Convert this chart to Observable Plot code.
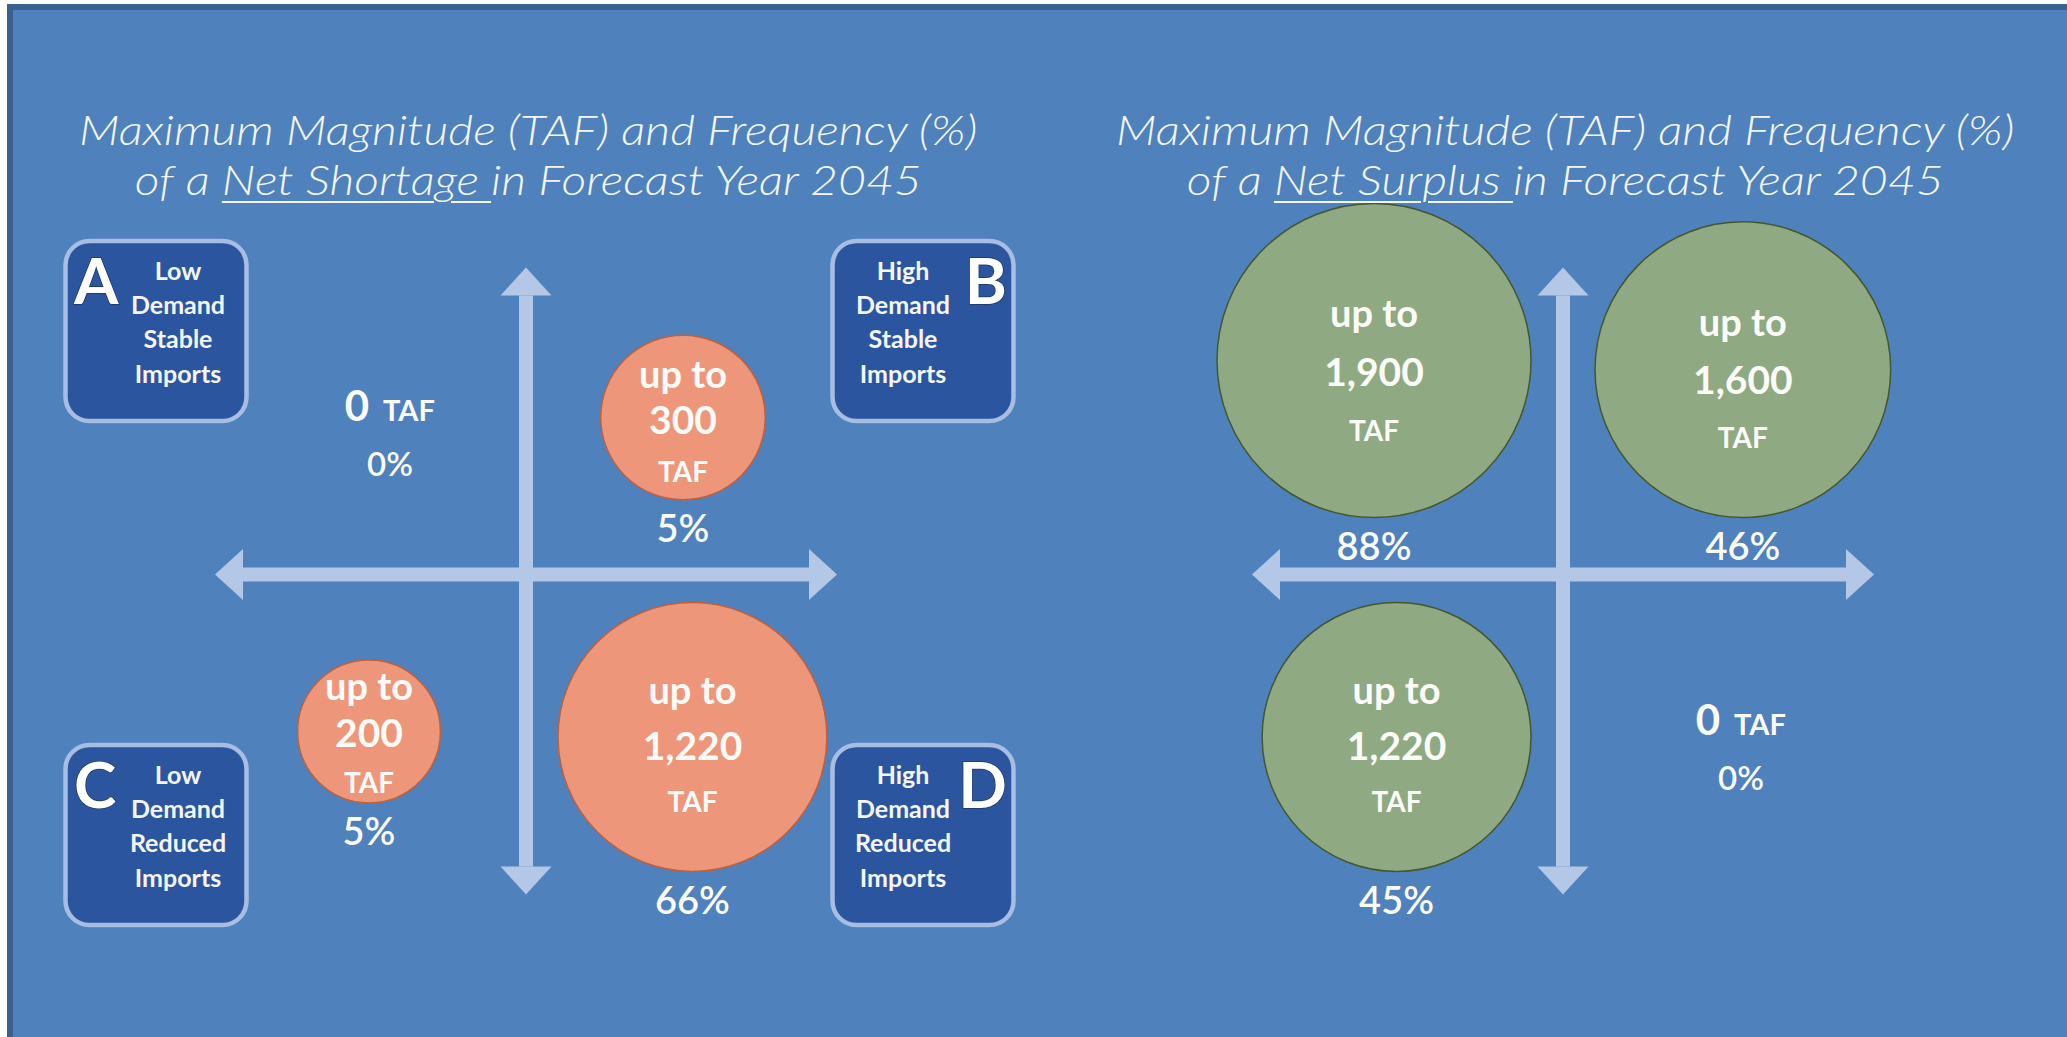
<!DOCTYPE html>
<html>
<head>
<meta charset="utf-8">
<script src="https://cdn.jsdelivr.net/npm/d3@7"></script>
<script src="https://cdn.jsdelivr.net/npm/@observablehq/plot@0.6"></script>
<style>
  html, body { margin: 0; padding: 0; background: #ffffff; }
  body { width: 2067px; height: 1037px; overflow: hidden; position: relative; font-family: Lato, "Open Sans", sans-serif; }
  #slide { position: absolute; left: 7px; top: 4px; right: -10px; bottom: -10px; background: #4f81bd;
           border-top: 6px solid #3a6090; border-left: 6px solid #3a6090; }
  .panel { position: absolute; top: 0; width: 1034px; }
  .title { box-sizing: border-box; height: 200px; padding-top: 104px; width: 1056px; text-align: center;
           color: #f4f6fb; font: italic 300 41.5px/50px Lato, sans-serif; white-space: nowrap; }
  .title span { display: inline-block; transform: scaleX(1.16); transform-origin: 50% 50%; }
  .title u { text-decoration-thickness: 2px; text-underline-offset: 6px; }
</style>
</head>
<body>
<div id="slide"></div>
<script>
// ---- Data: the four demand / import scenarios ----
const quadrants   = ["A", "B", "C", "D"];
const demandLevel = ["Low", "High", "Low", "High"];
const importLevel = ["Stable", "Stable", "Reduced", "Reduced"];

// Net shortage in forecast year 2045: maximum magnitude (TAF) and frequency (%)
const shortageTAF = [0, 300, 200, 1220];
const shortagePct = [0, 5, 5, 66];

// Net surplus in forecast year 2045
const surplusTAF = [1900, 1600, 1220, 0];
const surplusPct = [88, 46, 45, 0];

const titleLine1 = "Maximum Magnitude (TAF) and Frequency (%)";
const shortageTitle = ["of a ", "Net Shortage ", "in Forecast Year 2045"];
const surplusTitle  = ["of a ", "Net Surplus ", "in Forecast Year 2045"];

// ---- Layout ----
const W = 1034, H = 837;          // svg size of one panel
const CX = 525.5, CY = 374;       // where the two axes cross (svg px)
const AXIS = {x: 283, up: 279, down: 292};   // arrow shaft extents
const BASE = 157, GAP_X = 32, GAP_TOP = 57, GAP_BOTTOM = 28, ZERO_SHIFT = 21;
const FRAME = {left: -460, right: 488, top: 333, bottom: -351};
const BOX_W = 181, BOX_H = 180;

const rOptions = {type: "pow", exponent: 0.35, domain: [0, 1900], range: [0, 157]};
const rScale = Plot.scale({r: rOptions});

const arrowColor = "#b4c7e7";
const textColor = "#fbfbf7";

// filled arrowhead: base centred on the anchor, tip pointing up before rotation
const arrowHead = {
  draw(context, size) {
    const h = Math.sqrt(size / Math.PI);
    context.moveTo(0, -1.1 * h);
    context.lineTo(h, 0);
    context.lineTo(-h, 0);
    context.closePath();
  }
};

function rows(taf, pct) {
  return quadrants.map((q, i) => {
    const sx = demandLevel[i] === "High" ? 1 : -1;
    const sy = importLevel[i] === "Stable" ? 1 : -1;
    const r = rScale.apply(taf[i]);
    const ox = Math.max(BASE, r + GAP_X);
    const oy = Math.max(BASE, r + (sy > 0 ? GAP_TOP : GAP_BOTTOM));
    // vertical offsets (px below centre) of the three lines written inside a bubble
    const num = 0.12 * r - 6;
    return {q, demand: demandLevel[i], imports: importLevel[i], taf: taf[i], pct: pct[i],
            sx, sy, r, x: sx * ox, y: sy * oy,
            lineUp: num - Math.max(46, 0.17 * r + 32), lineNum: num, lineTaf: 0.22 * r + 37};
  });
}

function boxes(data) {
  return data.map(d => {
    const x1 = d.sx < 0 ? FRAME.left : FRAME.right - BOX_W;
    const y2 = d.sy > 0 ? FRAME.top : FRAME.bottom + BOX_H;
    return {...d, x1, x2: x1 + BOX_W, y1: y2 - BOX_H, y2};
  });
}

const fmt = d3.format(",");

function panelPlot(data, fill, stroke, withBoxes) {
  const bubbles = data.filter(d => d.taf > 0);
  const zeros = data.filter(d => d.taf === 0);
  const shafts = [
    {x1: -AXIS.x, y1: 0, x2: AXIS.x, y2: 0},
    {x1: 0, y1: -AXIS.down, x2: 0, y2: AXIS.up}
  ];
  const heads = [
    {x: -AXIS.x, y: 0, rotate: 270},
    {x: AXIS.x, y: 0, rotate: 90},
    {x: 0, y: AXIS.up, rotate: 0},
    {x: 0, y: -AXIS.down, rotate: 180}
  ];
  const bold = {fill: textColor, fontWeight: "bold", lineAnchor: "middle"};
  const zx = d => d.x + ZERO_SHIFT;
  const marks = [
    Plot.link(shafts, {x1: "x1", y1: "y1", x2: "x2", y2: "y2", stroke: arrowColor, strokeWidth: 14}),
    Plot.dot(heads, {x: "x", y: "y", rotate: "rotate", symbol: arrowHead, r: 25.5, fill: arrowColor, stroke: "none"}),
    Plot.dot(bubbles, {x: "x", y: "y", r: "taf", fill, stroke, strokeWidth: 1.5}),
    Plot.text(bubbles, {x: "x", y: d => d.y - d.lineUp, text: () => "up to", fontSize: 38, ...bold}),
    Plot.text(bubbles, {x: "x", y: d => d.y - d.lineNum, text: d => fmt(d.taf), fontSize: 39, ...bold}),
    Plot.text(bubbles, {x: "x", y: d => d.y - d.lineTaf, text: () => "TAF", fontSize: 28, ...bold}),
    Plot.text(bubbles, {x: "x", y: d => d.y - (d.r + 30), text: d => `${d.pct}%`, fontSize: 38,
                        fill: textColor, fontWeight: 600, lineAnchor: "middle"}),
    Plot.text(zeros, {x: d => zx(d) - 21, y: d => d.y - 3.5, text: d => fmt(d.taf), textAnchor: "end",
                      fontSize: 42, fill: textColor, fontWeight: "bold", lineAnchor: "bottom"}),
    Plot.text(zeros, {x: d => zx(d) - 7, y: d => d.y - 3.5, text: () => "TAF", textAnchor: "start",
                      fontSize: 29, fill: textColor, fontWeight: "bold", lineAnchor: "bottom"}),
    Plot.text(zeros, {x: zx, y: d => d.y - 48, text: d => `${d.pct}%`, fontSize: 33,
                      fill: textColor, fontWeight: 600, lineAnchor: "middle"})
  ];
  if (withBoxes) {
    const b = boxes(data);
    const leftBoxes = b.filter(d => d.sx < 0);
    const rightBoxes = b.filter(d => d.sx > 0);
    const letter = {y: d => d.y2 - 62, text: "q", fontSize: 64, fontWeight: "bold", fill: "#ffffff",
                    stroke: "#1d3561", strokeWidth: 1.5, paintOrder: "stroke", lineAnchor: "bottom"};
    const caption = {y: d => d.y2 - 14, text: d => `${d.demand}\nDemand\n${d.imports}\nImports`,
                     fontSize: 25, fontWeight: "bold", fill: "#f4f6fb", lineAnchor: "top", lineHeight: 1.37};
    marks.push(
      Plot.rect(b, {x1: "x1", x2: "x2", y1: "y1", y2: "y2", rx: 24, fill: "#2c55a0",
                    stroke: "#a8bde2", strokeWidth: 4.5}),
      Plot.text(leftBoxes, {x: d => d.x1 + 8, textAnchor: "start", ...letter}),
      Plot.text(rightBoxes, {x: d => d.x2 - 7, textAnchor: "end", ...letter}),
      Plot.text(leftBoxes, {x: d => d.x1 + 112, ...caption}),
      Plot.text(rightBoxes, {x: d => d.x1 + 70, ...caption})
    );
  }
  return Plot.plot({
    width: W, height: H, margin: 0,
    style: {background: "transparent", fontFamily: "Lato, 'Open Sans', sans-serif", overflow: "visible"},
    x: {domain: [-CX, W - CX], range: [0, W], axis: null},
    y: {domain: [CY - H, CY], range: [H, 0], axis: null},
    r: rOptions,
    marks
  });
}

const panels = [
  {left: 0, title: shortageTitle, data: rows(shortageTAF, shortagePct), fill: "#ee967a", stroke: "#c0603c", boxes: true},
  {left: 1037, title: surplusTitle, data: rows(surplusTAF, surplusPct), fill: "#8fa983", stroke: "#44572d", boxes: false}
];

for (const p of panels) {
  const div = document.createElement("div");
  div.className = "panel";
  div.style.left = `${p.left}px`;
  const title = document.createElement("div");
  title.className = "title";
  const line1 = document.createElement("span");
  line1.textContent = titleLine1;
  const line2 = document.createElement("span");
  const u = document.createElement("u");
  u.textContent = p.title[1];
  line2.append(p.title[0], u, p.title[2]);
  title.append(line1, document.createElement("br"), line2);
  div.append(title, panelPlot(p.data, p.fill, p.stroke, p.boxes));
  document.body.append(div);
}
</script>
</body>
</html>
